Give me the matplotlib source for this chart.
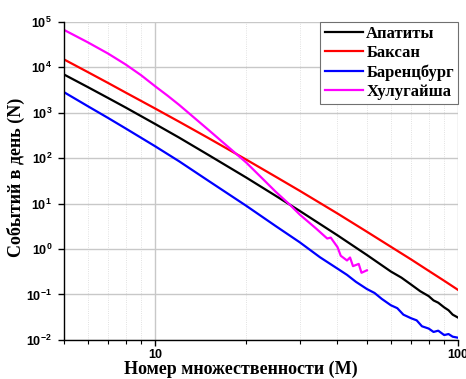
import numpy as np
import matplotlib
matplotlib.use("Agg")
import matplotlib.pyplot as plt
from matplotlib.ticker import FixedLocator, NullLocator, NullFormatter

plt.rcParams["mathtext.fontset"] = "custom"
plt.rcParams["mathtext.rm"] = "Liberation Sans:bold"
plt.rcParams["mathtext.default"] = "rm"

# Data (M - multiplicity, N - events per day)
m_apatity = [5, 6, 7, 8, 10, 12, 15, 20, 25, 30, 40, 50, 60, 65, 70, 75, 80, 83, 86, 90, 93, 96, 100]
n_apatity = [6900, 3630, 2090, 1290, 562, 282, 117, 37.2, 14.8, 6.9, 2.0, 0.74, 0.32,
             0.235, 0.165, 0.118, 0.092, 0.074, 0.066, 0.052, 0.045, 0.036, 0.031]

m_baksan = [5, 6, 7, 8, 10, 12, 15, 20, 25, 30, 40, 50, 60, 70, 80, 90, 100]
n_baksan = [14800, 7760, 4470, 2750, 1230, 631, 275, 92.3, 38.9, 19.1, 6.03, 2.40, 1.12,
            0.589, 0.331, 0.200, 0.126]

m_barentsburg = [5, 6, 7, 8, 10, 12, 15, 20, 25, 30, 35, 40, 43, 46, 50, 53, 56, 60, 63, 66,
                 70, 73, 76, 80, 83, 86, 90, 93, 96, 100]
n_barentsburg = [2820, 1380, 760, 447, 182, 85, 31.6, 8.9, 3.2, 1.41, 0.66, 0.37, 0.27, 0.19,
                 0.132, 0.108, 0.080, 0.058, 0.050, 0.036, 0.030, 0.027, 0.020, 0.0178, 0.0150,
                 0.0160, 0.0128, 0.0135, 0.0118, 0.0112]

m_khulugaisha = [5, 6, 7, 8, 9, 10, 11, 12, 13, 15, 18, 20, 23, 25, 28, 30, 32, 34, 36, 37, 38,
                 40, 41, 43, 44, 45, 47, 48, 50]
n_khulugaisha = [66000, 35000, 19800, 11400, 6600, 3800, 2350, 1480, 940, 417, 146, 79.4, 31.6,
                 18.2, 9.1, 5.75, 3.98, 2.82, 2.0, 1.70, 1.78, 1.10, 0.71, 0.56, 0.65, 0.42,
                 0.47, 0.30, 0.34]

labels = ["Апатиты", "Баксан", "Баренцбург", "Хулугайша"]
colors = ["black", "red", "blue", "magenta"]
y_exps = [-2, -1, 0, 1, 2, 3, 4, 5]

serif_bold = {"family": "Liberation Serif", "weight": "bold"}

fig = plt.figure(figsize=(4.66, 3.79), dpi=100)
ax = fig.add_axes([0.137, 0.103, 0.846, 0.840])

series = [(m_apatity, n_apatity), (m_baksan, n_baksan),
          (m_barentsburg, n_barentsburg), (m_khulugaisha, n_khulugaisha)]
for (m, n), lab, col in zip(series, labels, colors):
    ax.plot(m, n, color=col, lw=1.6, label=lab)

ax.set_xscale("log")
ax.set_yscale("log")
ax.set_xlim(5, 100)
ax.set_ylim(1e-2, 1e5)

# ticks
ax.xaxis.set_major_locator(FixedLocator([10, 100]))
ax.set_xticklabels(["10", "100"])
ax.xaxis.set_minor_locator(FixedLocator([5, 6, 7, 8, 9, 20, 30, 40, 50, 60, 70, 80, 90]))
ax.xaxis.set_minor_formatter(NullFormatter())
ax.yaxis.set_major_locator(FixedLocator([10.0 ** k for k in y_exps]))
ax.set_yticklabels([r"$10^{%d}$" % k for k in y_exps])
ax.yaxis.set_minor_locator(NullLocator())
ax.tick_params(which="major", direction="out", length=4.5, width=1.0, labelsize=9)
ax.tick_params(axis="y", which="major", pad=4)
ax.tick_params(axis="x", which="major", pad=2)
ax.tick_params(which="minor", direction="out", length=3, width=0.8)
for t in ax.get_xticklabels() + ax.get_yticklabels():
    t.set_fontfamily("Liberation Sans")
    t.set_fontweight("bold")

# grid
ax.grid(which="major", color="#c8c8c8", lw=1.0, ls="-")
ax.grid(which="minor", axis="x", color="#d8d8d8", lw=0.6, ls=":")
ax.set_axisbelow(True)

ax.spines["top"].set_visible(False)
ax.spines["right"].set_visible(False)
ax.spines["left"].set_linewidth(1.0)
ax.spines["bottom"].set_linewidth(1.0)

ax.set_xlabel("Номер множественности (М)", fontsize=13, va="top", **serif_bold)
ax.xaxis.set_label_coords(0.45, -0.064)
ax.set_ylabel("Событий в день (N)", fontsize=13, **serif_bold)
ax.yaxis.set_label_coords(-0.098, 0.51)

leg = ax.legend(loc="upper right", borderaxespad=0, prop={"family": "Liberation Serif",
                "weight": "bold", "size": 12}, fancybox=False, handlelength=2.3,
                handletextpad=0.2, borderpad=0.25, labelspacing=0.2, framealpha=1)
leg.get_frame().set_edgecolor("#707070")
leg.get_frame().set_linewidth(0.8)

fig.savefig("out.png", dpi=100)
